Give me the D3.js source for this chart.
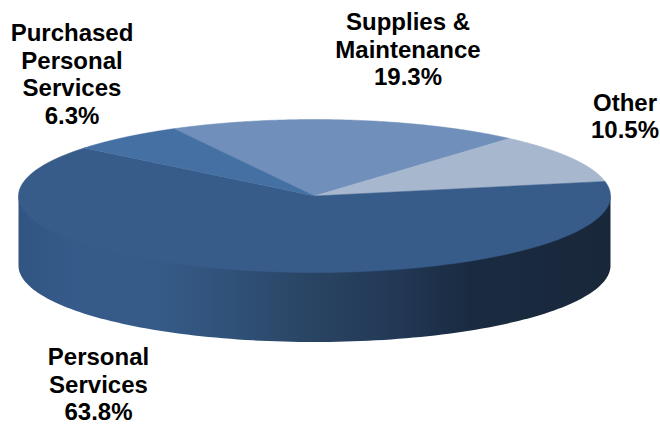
<!DOCTYPE html>
<html><head><meta charset="utf-8">
<script src="https://cdnjs.cloudflare.com/ajax/libs/d3/7.8.5/d3.min.js"></script>
<style>html,body{margin:0;background:#fff;overflow:hidden}svg{display:block}text{font-family:"Liberation Sans",Arial,sans-serif;font-weight:700;font-size:24px;fill:#000}</style>
</head><body><svg id="chart" width="660" height="425"></svg>
<script>
// Budget shares, clockwise from the Purchased/Supplies boundary
const categories = ["Supplies & Maintenance", "Other", "Personal Services", "Purchased Personal Services"];
const shares = [19.3, 10.5, 63.8, 6.3];
const topColors = ["#7090bb", "#a6b7ce", "#385c8a", "#4470a3"];
const labelLines = [["Supplies &", "Maintenance", "19.3%"], ["Other", "10.5%"], ["Personal", "Services", "63.8%"], ["Purchased", "Personal", "Services", "6.3%"]];
const labelAnchors = [[408, 30], [625, 110.5], [98.5, 365], [72, 41]];

const cx = 314.5, cy = 196, rx = 296, ry = 76.5, depth = 69.5;
const svg = d3.select("#chart");

const pie = d3.pie().sort(null).value(d => d).startAngle(-0.495).endAngle(-0.495 + 2 * Math.PI);
const arcs = pie(shares);

// Tilted disc: x and y scales take the unit circle onto the ellipse
const px = d3.scaleLinear().domain([-1, 1]).range([cx - rx, cx + rx]);
const py = d3.scaleLinear().domain([-1, 1]).range([cy - ry, cy + ry]);
const line = d3.line().x(d => px(d[0])).y(d => py(d[1]));
const sampled = (a0, a1) => d3.range(0, 121).map(i => {
  const a = a0 + (a1 - a0) * i / 120;
  return [Math.sin(a), -Math.cos(a)];
});

// Rim gradient running from mid blue on the left to near-black on the right
const defs = svg.append("defs");
const rim = defs.append("linearGradient").attr("id", "rim").attr("gradientUnits", "userSpaceOnUse")
  .attr("x1", cx - rx).attr("x2", cx + rx).attr("y1", 0).attr("y2", 0);
[[0, "#315583"], [0.1, "#365b8a"], [0.24, "#365b88"], [0.38, "#2f4f75"], [0.5, "#294462"], [0.62, "#233a58"], [0.76, "#1a2b41"], [1, "#19273a"]]
  .forEach(([o, c]) => rim.append("stop").attr("offset", o).attr("stop-color", c));

// Front wall, starting from the disc's horizontal diameter so no seam shows under the top face
const front = sampled(Math.PI / 2, 3 * Math.PI / 2);
const wall = [[cx + rx, cy], [cx + rx, cy + depth]]
  .concat(front.map(p => [px(p[0]), py(p[1]) + depth]))
  .concat([[cx - rx, cy]]);
svg.append("path").attr("d", d3.line()(wall) + "Z").attr("fill", "url(#rim)");

// Top face slices; a thin same-colour stroke closes the gaps between neighbours
svg.selectAll("path.slice").data(arcs).join("path").attr("class", "slice")
  .attr("d", d => line([[0, 0], ...sampled(d.startAngle, d.endAngle)]) + "Z")
  .attr("fill", (d, i) => topColors[i])
  .attr("stroke", (d, i) => topColors[i]).attr("stroke-width", 0.5);

// Labels
const text = svg.selectAll("text.label").data(labelLines).join("text").attr("class", "label")
  .attr("text-anchor", "middle")
  .attr("x", (d, i) => labelAnchors[i][0]).attr("y", (d, i) => labelAnchors[i][1]);
text.selectAll("tspan").data((d, i) => d.map(s => ({s, x: labelAnchors[i][0]}))).join("tspan")
  .attr("x", d => d.x).attr("dy", (d, i) => i ? 27.7 : 0).text(d => d.s);
</script></body></html>
